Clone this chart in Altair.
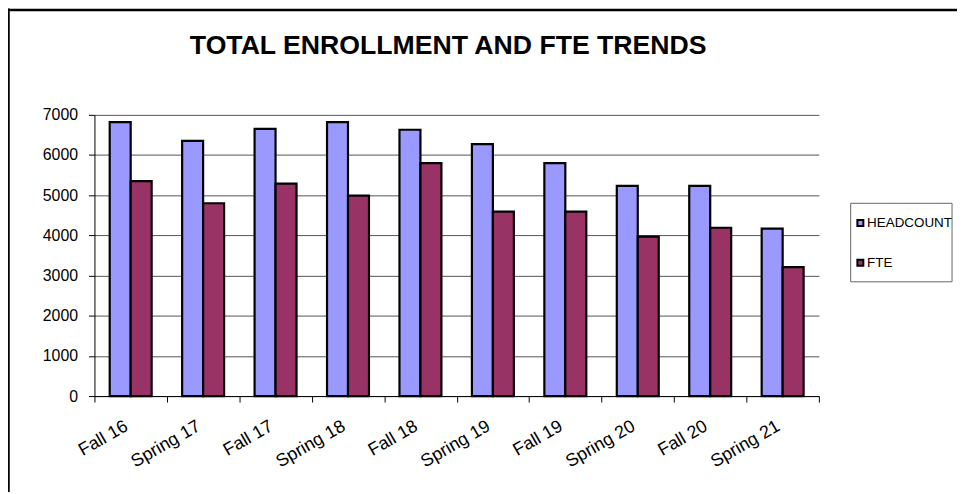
import altair as alt
import pandas as pd

terms = ["Fall 16", "Spring 17", "Fall 17", "Spring 18", "Fall 18",
         "Spring 19", "Fall 19", "Spring 20", "Fall 20", "Spring 21"]
headcount = [6820, 6350, 6650, 6820, 6630, 6270, 5800, 5230, 5230, 4170]
fte = [5350, 4800, 5290, 4990, 5800, 4590, 4590, 3970, 4190, 3210]
series = ["HEADCOUNT", "FTE"]
colors = ["#9999FF", "#993366"]
title_text = "TOTAL ENROLLMENT AND FTE TRENDS"
y_ticks = [0, 1000, 2000, 3000, 4000, 5000, 6000, 7000]

rows = []
for t, h, f in zip(terms, headcount, fte):
    rows.append({"term": t, "series": "HEADCOUNT", "value": h})
    rows.append({"term": t, "series": "FTE", "value": f})
df = pd.DataFrame(rows)

FONT = "Liberation Sans"
W, H = 729, 283

bars = alt.Chart(df).mark_bar(stroke="black", strokeWidth=2.2, opacity=1).encode(
    x=alt.X("term:N", sort=terms,
            scale=alt.Scale(paddingInner=0, paddingOuter=0),
            axis=alt.Axis(title=None, labelAngle=-30, tickBand="extent",
                          labelAlign="right", labelBaseline="top",
                          labelFontSize=18, labelFont=FONT, labelColor="black",
                          tickSize=6, tickColor="black", domainColor="black",
                          labelPadding=15, labelOffset=-9, grid=False)),
    xOffset=alt.XOffset("series:N", sort=series,
                        scale=alt.Scale(paddingInner=0, paddingOuter=0.727)),
    y=alt.Y("value:Q", scale=alt.Scale(domain=[0, 7000], nice=False),
            axis=alt.Axis(title=None, values=y_ticks, format="d",
                          labelFontSize=16, labelFont=FONT, labelColor="black",
                          tickSize=6, tickColor="black", domainColor="black",
                          labelPadding=11, grid=True, gridColor="#555555",
                          gridWidth=1)),
    color=alt.Color("series:N", sort=series,
                    scale=alt.Scale(domain=series, range=colors),
                    legend=alt.Legend(title=None, orient="none", legendX=760,
                                      legendY=98, symbolType="square",
                                      symbolSize=36, symbolStrokeColor="black",
                                      symbolStrokeWidth=2, symbolOpacity=1,
                                      labelFontSize=13.5, labelFont=FONT,
                                      labelColor="black", rowPadding=25,
                                      padding=4, labelOffset=0, labelLimit=200)),
)

one = pd.DataFrame({"k": [0]})

legend_box = alt.Chart(one).mark_rect(fill=None, stroke="#666666", strokeWidth=1).encode(
    x=alt.value(761), x2=alt.value(863), y=alt.value(89), y2=alt.value(168)
)

border_top = alt.Chart(one).mark_rule(color="black", strokeWidth=2.5).encode(
    x=alt.value(-88), x2=alt.value(880), y=alt.value(-105.5)
)
border_left = alt.Chart(one).mark_rule(color="black", strokeWidth=2.5).encode(
    x=alt.value(-86.5), y=alt.value(-107), y2=alt.value(400)
)

title = alt.Chart(one).mark_text(
    text=title_text, font=FONT, fontSize=26.8, fontWeight="bold",
    baseline="alphabetic", align="center", color="black"
).encode(x=alt.value(356), y=alt.value(-61))

chart = alt.layer(bars, legend_box, border_top, border_left, title).properties(
    width=W, height=H,
    autosize=alt.AutoSizeParams(type="none"),
    padding={"left": 87, "top": 106, "right": 139, "bottom": 95},
    background="white",
).configure_view(stroke=None).configure_axis(labelFont=FONT)

chart.save("out.html", embed_options={"renderer": "svg", "actions": False})
